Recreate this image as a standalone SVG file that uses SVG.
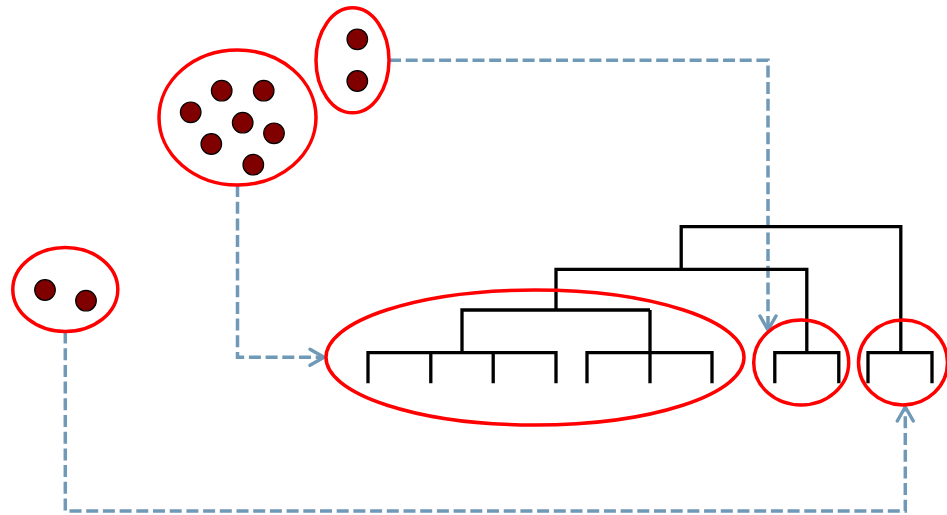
<svg xmlns="http://www.w3.org/2000/svg" width="947" height="515" viewBox="0 0 947 515">
  <defs>
    <style>
      .clu { fill: none; stroke: #ff0000; stroke-width: 3.5; }
      .dot { fill: #800000; stroke: #000000; stroke-width: 1.2; }
      .con { fill: none; stroke: #7099b8; stroke-width: 3.5; stroke-dasharray: 12 4.7; }
      .den { fill: none; stroke: #000000; stroke-width: 3.3; stroke-linejoin: miter; }
    </style>
    <marker id="arr" markerUnits="userSpaceOnUse" markerWidth="30" markerHeight="30" refX="0" refY="0" viewBox="-20 -15 30 30" orient="auto" overflow="visible">
      <path d="M -14 -8 L 0 0 L -14 8" fill="none" stroke="#7099b8" stroke-width="3.5" stroke-dasharray="none" stroke-linecap="round" stroke-linejoin="round"/>
    </marker>
  </defs>
  <rect width="947" height="515" fill="#ffffff"/>

  <g id="connectors">
    <path class="con" d="M 389 60.3 H 768 V 330" marker-end="url(#arr)"/>
    <path class="con" d="M 237.5 185 V 357.3 H 324" marker-end="url(#arr)"/>
    <path class="con" d="M 65.3 331.5 V 511 H 905.3 V 407" marker-end="url(#arr)"/>
  </g>

  <g id="dendrogram">
    <path class="den" d="M368 383.3 V352.7 H556 V383.3 M430.8 352.7 V383.3 M493.2 352.7 V383.3"/>
    <path class="den" d="M587 383.3 V352.7 H712 V383.3 M650 383.3 V310"/>
    <path class="den" d="M462 352.7 V310 H650"/>
    <path class="den" d="M556 310 V269.3 H806.8 V352.7"/>
    <path class="den" d="M774.8 383.3 V352.7 H838.8 V383.3"/>
    <path class="den" d="M681.2 269.3 V226.7 H900.8 V352.7"/>
    <path class="den" d="M868 383.3 V352.7 H932 V383.3"/>
  </g>

  <g id="cluster-seven">
    <ellipse class="clu" cx="237.5" cy="117.5" rx="78.5" ry="67.5"/>
    <circle class="dot" cx="221.7" cy="90.7" r="10.3"/>
    <circle class="dot" cx="263.7" cy="90.7" r="10.3"/>
    <circle class="dot" cx="190.7" cy="112.3" r="10.3"/>
    <circle class="dot" cx="242.7" cy="122.7" r="10.3"/>
    <circle class="dot" cx="274" cy="133.3" r="10.3"/>
    <circle class="dot" cx="211.3" cy="144" r="10.3"/>
    <circle class="dot" cx="253.3" cy="164.7" r="10.3"/>
  </g>

  <g id="cluster-top-pair">
    <ellipse class="clu" cx="352.5" cy="60.3" rx="36.5" ry="52.5"/>
    <circle class="dot" cx="357.3" cy="39.3" r="10.3"/>
    <circle class="dot" cx="357.3" cy="81" r="10.3"/>
  </g>

  <g id="cluster-left-pair">
    <ellipse class="clu" cx="65.3" cy="289.5" rx="52.5" ry="42"/>
    <circle class="dot" cx="45" cy="290" r="10.3"/>
    <circle class="dot" cx="86" cy="300.7" r="10.3"/>
  </g>

  <g id="group-large">
    <ellipse class="clu" cx="535" cy="357.5" rx="209" ry="67.5"/>
  </g>

  <g id="group-mid">
    <ellipse class="clu" cx="801.2" cy="362.5" rx="47.5" ry="42.5"/>
  </g>

  <g id="group-right">
    <ellipse class="clu" cx="903" cy="362.5" rx="44.5" ry="42.5"/>
  </g>
</svg>
